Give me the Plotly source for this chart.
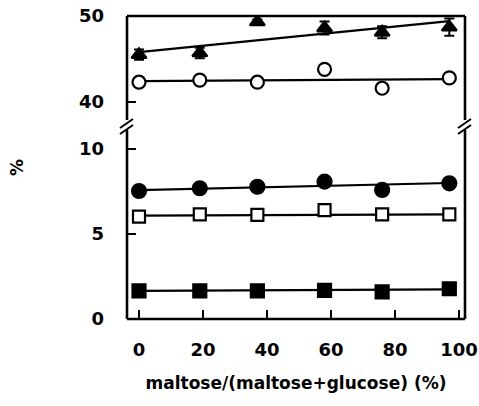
import plotly.graph_objects as go

# ---- data ----
x_vals = [0, 19, 37, 58, 76, 97]
tri_vals = [45.5, 45.7, 49.3, 48.6, 48.1, 48.7]
tri_err = [0.6, 0.6, 0.3, 0.75, 0.7, 1.0]
open_circle_vals = [42.3, 42.55, 42.3, 43.8, 41.6, 42.8]
filled_circle_vals = [7.53, 7.69, 7.78, 8.08, 7.59, 7.98]
open_square_vals = [6.02, 6.16, 6.12, 6.41, 6.16, 6.16]
filled_square_vals = [1.65, 1.65, 1.65, 1.68, 1.6, 1.78]

fit_x = [0, 97]
tri_fit = [45.8, 49.4]
open_circle_fit = [42.42, 42.65]
filled_circle_fit = [7.58, 8.0]
open_square_fit = [6.08, 6.16]
filled_square_fit = [1.65, 1.74]

x_ticks = [0, 20, 40, 60, 80, 100]
upper_ticks = [40, 50]
lower_ticks = [0, 5, 10]

W, H = 479, 406
L, R, T, B = 127, 14, 16, 87
plot_h = H - T - B
split = 0.642

fig = go.Figure()
LW = 2.2


def add_line(xs, ys, yaxis):
    fig.add_trace(go.Scatter(x=xs, y=ys, mode="lines", yaxis=yaxis,
                             line=dict(color="black", width=LW), showlegend=False))


def add_markers(ys, yaxis, symbol, size, fill, err=None):
    kw = {}
    if err is not None:
        kw["error_y"] = dict(type="data", array=err, color="black", thickness=2, width=5)
    fig.add_trace(go.Scatter(x=x_vals, y=ys, mode="markers", yaxis=yaxis,
                             marker=dict(symbol=symbol, size=size, color=fill,
                                         line=dict(color="black", width=2.2)),
                             showlegend=False, **kw))


add_line(fit_x, tri_fit, "y2")
add_line(fit_x, open_circle_fit, "y2")
add_line(fit_x, filled_circle_fit, "y")
add_line(fit_x, open_square_fit, "y")
add_line(fit_x, filled_square_fit, "y")

add_markers(tri_vals, "y2", "triangle-up", 13, "black", tri_err)
add_markers(open_circle_vals, "y2", "circle", 13, "white")
add_markers(filled_circle_vals, "y", "circle", 14, "black")
add_markers(open_square_vals, "y", "square", 12, "white")
add_markers(filled_square_vals, "y", "square", 13, "black")

font = dict(family="DejaVu Sans", size=18, color="black", weight="bold")


def py(pix):
    return (H - B - pix) / plot_h


def px(pix):
    return (pix - L) / (W - L - R)


shapes = []
line = dict(color="black", width=2.6)
gap_top, gap_bot = 120, 130
for xp in (0, 1):
    shapes.append(dict(type="line", xref="paper", yref="paper", x0=xp, x1=xp,
                       y0=0, y1=py(gap_bot), line=line))
    shapes.append(dict(type="line", xref="paper", yref="paper", x0=xp, x1=xp,
                       y0=py(gap_top), y1=1, line=line))
shapes.append(dict(type="line", xref="paper", yref="paper", x0=0, x1=1, y0=1, y1=1, line=line))
shapes.append(dict(type="line", xref="paper", yref="paper", x0=0, x1=1, y0=0, y1=0, line=line))
for cx in (L, W - R):
    for off in (0, 6):
        shapes.append(dict(type="line", xref="paper", yref="paper",
                           x0=px(cx - 7), x1=px(cx + 6),
                           y0=py(128 + off), y1=py(119 + off),
                           line=dict(color="black", width=2)))

fig.update_layout(
    width=W, height=H,
    margin=dict(l=L, r=R, t=T, b=B, autoexpand=False),
    paper_bgcolor="white", plot_bgcolor="white",
    font=font,
    shapes=shapes,
    xaxis=dict(range=[-3.75, 101.9], tickvals=x_ticks, ticks="inside", ticklen=9,
               tickwidth=2, tickcolor="black", showline=False, showgrid=False,
               zeroline=False, ticklabelstandoff=18, tickfont=font, automargin=False,
               title=dict(text="maltose/(maltose+glucose) (%)", standoff=18,
                          font=dict(family="DejaVu Sans", size=17, color="black", weight="bold"))),
    yaxis=dict(domain=[0, split], range=[0, split * plot_h / 17],
               tickvals=lower_ticks, ticks="inside", ticklen=9, tickwidth=2,
               tickcolor="black", showline=False, showgrid=False, zeroline=False,
               ticklabelstandoff=22, tickfont=font, automargin=False),
    yaxis2=dict(domain=[split, 1], range=[50 - (1 - split) * plot_h / 8.6, 50],
                tickvals=upper_ticks, ticks="inside", ticklen=9, tickwidth=2,
                tickcolor="black", showline=False, showgrid=False, zeroline=False,
                ticklabelstandoff=22, tickfont=font, automargin=False),
    annotations=[dict(text="%", textangle=-90, xref="paper", yref="paper",
                      x=px(17), y=py(168), xanchor="center", yanchor="middle",
                      showarrow=False,
                      font=dict(family="DejaVu Sans", size=17, color="black", weight="bold"))],
)

fig.write_html("out.html", config={"displayModeBar": False},
               post_script="document.body.style.margin='0';document.body.style.padding='0';")
